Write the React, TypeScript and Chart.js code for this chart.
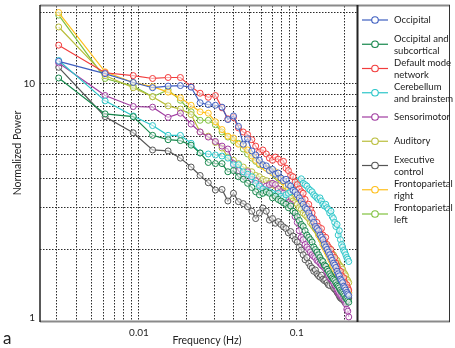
import { useEffect, useRef } from "react";
import { Chart, registerables } from "chart.js";

Chart.register(...registerables);

const frequencies = [
  0.0031, 0.0061, 0.0092, 0.0122, 0.0153, 0.0183, 0.0214, 0.0244, 0.0275, 0.0305,
  0.0336, 0.0366, 0.0397, 0.0427, 0.0458, 0.0488, 0.0519, 0.0549, 0.058, 0.061,
  0.0641, 0.0671, 0.0702, 0.0732, 0.0763, 0.0793, 0.0824, 0.0854, 0.0885, 0.0915,
  0.0946, 0.0976, 0.1007, 0.1037, 0.1068, 0.1098, 0.1129, 0.1159, 0.119, 0.122,
  0.1251, 0.1281, 0.1312, 0.1342, 0.1373, 0.1403, 0.1434, 0.1464, 0.1495, 0.1525,
  0.1556, 0.1586, 0.1617, 0.1647, 0.1678, 0.1708, 0.1739, 0.1769, 0.18, 0.183,
  0.1861, 0.1891, 0.1922, 0.1952, 0.1983, 0.2013, 0.2044, 0.2074, 0.2105, 0.2135,
];

const occipital = [
  12.4, 11.0, 10.1, 9.6, 9.75, 9.8, 9.65, 8.3, 8.15, 8.1,
  7.95, 7.05, 7.3, 6.6, 5.55, 5.85, 5.2, 5.0, 4.75, 4.55,
  4.5, 4.3, 4.35, 4.15, 4.2, 4.0, 3.9, 3.95, 3.75, 3.7,
  3.55, 3.5, 3.4, 3.3, 3.2, 3.1, 3.0, 2.95, 2.85, 2.75,
  2.7, 2.6, 2.5, 2.45, 2.4, 2.3, 2.25, 2.2, 2.1, 2.05,
  2.0, 1.95, 1.9, 1.85, 1.8, 1.75, 1.72, 1.68, 1.62, 1.58,
  1.55, 1.5, 1.48, 1.45, 1.4, 1.38, 1.35, 1.32, 1.3, 1.28,
];

const occipitalSubcortical = [
  10.55, 7.45, 7.25, 6.05, 5.8, 5.75, 5.5, 5.1, 4.65, 4.6,
  4.6, 4.25, 4.3, 4.05, 3.95, 3.8, 3.65, 3.5, 3.4, 3.45,
  3.5, 3.45, 3.3, 3.35, 3.25, 3.2, 3.15, 3.1, 3.0, 3.05,
  2.9, 2.85, 2.75, 2.65, 2.55, 2.5, 2.4, 2.3, 2.25, 2.2,
  2.15, 2.05, 2.0, 1.95, 1.9, 1.85, 1.8, 1.78, 1.72, 1.7,
  1.65, 1.62, 1.58, 1.55, 1.52, 1.5, 1.48, 1.45, 1.42, 1.4,
  1.38, 1.35, 1.33, 1.32, 1.3, 1.28, 1.25, 1.24, 1.22, 1.2,
];

const defaultMode = [
  14.5, 11.1, 10.8, 10.5, 10.6, 10.6, 9.7, 9.1, 8.75, 8.9,
  7.9, 7.1, 7.2, 6.5, 6.25, 6.1, 5.8, 5.45, 5.15, 5.25,
  5.05, 4.85, 4.75, 4.9, 4.8, 4.65, 4.7, 4.4, 4.3, 4.1,
  4.05, 3.85, 3.75, 3.6, 3.5, 3.45, 3.25, 3.05, 3.1, 2.95,
  2.85, 2.7, 2.55, 2.6, 2.5, 2.4, 2.45, 2.3, 2.2, 2.25,
  2.1, 2.05, 1.95, 2.0, 1.9, 1.8, 1.85, 1.75, 1.7, 1.65,
  1.6, 1.62, 1.55, 1.5, 1.52, 1.45, 1.4, 1.42, 1.38, 1.35,
];

const cerebellum = [
  12.5, 8.45, 7.3, 6.65, 6.05, 6.05, 5.6, 5.1, 5.05, 5.0,
  4.95, 4.85, 4.55, 4.55, 4.25, 4.15, 4.05, 3.8, 3.7, 3.6,
  3.55, 3.5, 3.45, 3.4, 3.45, 3.35, 3.3, 3.4, 3.45, 3.5,
  3.6, 3.75, 3.85, 3.9, 3.97, 3.8, 3.75, 3.7, 3.6, 3.55,
  3.5, 3.4, 3.35, 3.3, 3.25, 3.3, 3.2, 3.1, 3.05, 3.1,
  3.0, 2.95, 2.85, 2.9, 2.75, 2.7, 2.6, 2.5, 2.55, 2.3,
  2.4, 2.2, 2.1, 2.05, 1.98, 1.95, 1.9, 1.85, 1.82, 1.78,
];

const sensorimotor = [
  12.2, 8.9, 8.0, 7.95, 7.2, 7.5, 6.75, 6.25, 5.95, 5.7,
  5.45, 5.3, 4.6, 4.3, 4.1, 4.25, 3.95, 3.9, 3.75, 3.6,
  3.7, 3.75, 3.8, 3.75, 3.6, 3.5, 3.45, 3.3, 3.15, 3.1,
  2.9, 2.75, 2.6, 2.4, 2.25, 2.2, 2.1, 2.05, 2.0, 1.95,
  1.9, 1.87, 1.85, 1.8, 1.78, 1.75, 1.72, 1.7, 1.68, 1.65,
  1.6, 1.56, 1.52, 1.5, 1.48, 1.45, 1.42, 1.4, 1.35, 1.32,
  1.3, 1.28, 1.27, 1.25, 1.27, 1.22, 1.18, 1.12, 1.1, 1.04,
];

const auditory = [
  17.3, 10.8, 9.6, 8.8, 8.05, 7.8, 7.4, 6.25, 6.0, 5.65,
  5.35, 4.9, 4.75, 4.6, 4.45, 4.3, 4.25, 4.1, 4.05, 3.95,
  3.9, 3.8, 3.75, 3.7, 3.6, 3.55, 3.5, 3.4, 3.35, 3.3,
  3.2, 3.15, 3.1, 3.0, 2.95, 2.85, 2.8, 2.75, 2.7, 2.6,
  2.55, 2.5, 2.45, 2.4, 2.35, 2.3, 2.28, 2.2, 2.15, 2.1,
  2.05, 2.0, 2.02, 1.95, 1.92, 1.9, 1.85, 1.82, 1.8, 1.75,
  1.72, 1.7, 1.68, 1.65, 1.6, 1.58, 1.55, 1.5, 1.48, 1.45,
];

const executiveControl = [
  11.7, 7.25, 6.2, 5.25, 5.2, 4.85, 4.45, 4.1, 3.82, 3.56,
  3.58, 3.2, 3.45, 3.18, 3.12, 3.03, 2.9, 2.7, 2.85, 2.99,
  2.9, 2.66, 2.7, 2.58, 2.62, 2.55, 2.49, 2.45, 2.35, 2.38,
  2.28, 2.2, 2.15, 2.05, 1.99, 1.9, 1.81, 1.85, 1.75, 1.7,
  1.67, 1.62, 1.64, 1.58, 1.55, 1.53, 1.56, 1.5, 1.48, 1.49,
  1.45, 1.42, 1.41, 1.5, 1.42, 1.38, 1.36, 1.35, 1.32, 1.3,
  1.27, 1.25, 1.24, 1.23, 1.22, 1.2, 1.2, 1.22, 1.23, 1.25,
];

const frontoparietalRight = [
  19.9, 11.2, 10.1, 9.7, 9.2, 8.7, 8.1, 7.6, 7.5, 6.9,
  6.4, 6.0, 5.9, 5.55, 5.5, 5.25, 4.95, 4.75, 4.6, 4.5,
  4.4, 4.3, 4.2, 4.25, 4.05, 3.95, 3.85, 3.7, 3.6, 3.55,
  3.45, 3.35, 3.25, 3.2, 3.1, 3.0, 2.9, 2.85, 2.75, 2.7,
  2.6, 2.5, 2.45, 2.4, 2.3, 2.25, 2.2, 2.1, 2.05, 2.0,
  1.95, 1.9, 1.85, 1.8, 1.72, 1.7, 1.65, 1.6, 1.55, 1.52,
  1.5, 1.45, 1.4, 1.42, 1.35, 1.32, 1.3, 1.28, 1.25, 1.3,
];

const frontoparietalLeft = [
  19.4, 10.5, 9.75, 8.8, 9.4, 8.5, 7.6, 7.0, 7.0, 6.7,
  6.25, 5.95, 5.75, 5.6, 5.3, 5.05, 4.85, 4.7, 4.55, 4.5,
  4.4, 4.35, 4.25, 4.1, 4.0, 3.9, 3.85, 3.75, 3.65, 3.55,
  3.45, 3.4, 3.3, 3.2, 3.1, 3.05, 2.95, 2.85, 2.8, 2.7,
  2.65, 2.55, 2.5, 2.4, 2.35, 2.3, 2.2, 2.15, 2.1, 2.05,
  2.0, 1.95, 1.9, 1.85, 1.8, 1.75, 1.7, 1.68, 1.62, 1.6,
  1.55, 1.52, 1.5, 1.45, 1.48, 1.42, 1.4, 1.38, 1.35, 1.32,
];

const seriesNames = [
  ["Occipital"],
  ["Occipital and", "subcortical"],
  ["Default mode", "network"],
  ["Cerebellum", "and brainstem"],
  ["Sensorimotor"],
  ["Auditory"],
  ["Executive", "control"],
  ["Frontoparietal", "right"],
  ["Frontoparietal", "left"],
];

const seriesValues = [
  occipital,
  occipitalSubcortical,
  defaultMode,
  cerebellum,
  sensorimotor,
  auditory,
  executiveControl,
  frontoparietalRight,
  frontoparietalLeft,
];

const seriesColors = [
  "#3f5fc0",
  "#14864a",
  "#f23c3c",
  "#2cc6c9",
  "#a03ca0",
  "#b9bd3a",
  "#555555",
  "#ffbf1a",
  "#80c13f",
];

const xGridValues = [
  0.003, 0.004, 0.005, 0.006, 0.007, 0.008, 0.009, 0.01,
  0.02, 0.03, 0.04, 0.05, 0.06, 0.07, 0.08, 0.09, 0.1, 0.2,
];
const xLabelValues = [0.01, 0.1];
const xLabelTexts = ["0.01", "0.1"];
const yGridValues = [1, 2, 3, 4, 5, 6, 7, 8, 9, 10, 20];
const yLabelValues = [1, 10];
const yLabelTexts = ["1", "10"];

const xTitle = "Frequency (Hz)";
const yTitle = "Normalized Power";
const panelLetter = "a";

const FONT = "Lato, 'Liberation Sans', sans-serif";

export default function App() {
  const canvasRef = useRef<HTMLCanvasElement | null>(null);

  useEffect(() => {
    const canvas = canvasRef.current;
    if (!canvas) return;

    const framePlugin = {
      id: "framePlugin",
      afterDraw(chart: any) {
        const ctx = chart.ctx as CanvasRenderingContext2D;
        const a = chart.chartArea;
        const xs = chart.scales.x;
        const ys = chart.scales.y;
        const legendRight = 450;
        ctx.save();
        // top and bottom frame lines
        ctx.strokeStyle = "#8a8a8a";
        ctx.lineWidth = 2;
        ctx.beginPath();
        ctx.moveTo(a.left, a.top - 0.5);
        ctx.lineTo(legendRight, a.top - 0.5);
        ctx.moveTo(a.left, a.bottom + 0.5);
        ctx.lineTo(legendRight, a.bottom + 0.5);
        ctx.stroke();
        // left axis
        ctx.strokeStyle = "#222";
        ctx.lineWidth = 1.5;
        ctx.beginPath();
        ctx.moveTo(a.left, a.top - 1);
        ctx.lineTo(a.left, a.bottom + 1);
        ctx.stroke();
        // right plot border / legend divider
        ctx.lineWidth = 2;
        ctx.beginPath();
        ctx.moveTo(a.right + 0.5, a.top - 1);
        ctx.lineTo(a.right + 0.5, a.bottom + 1);
        ctx.stroke();
        // legend right border
        ctx.lineWidth = 1;
        ctx.strokeStyle = "#333";
        ctx.beginPath();
        ctx.moveTo(legendRight - 0.5, a.top - 1);
        ctx.lineTo(legendRight - 0.5, a.bottom + 1);
        ctx.stroke();

        // tick labels
        ctx.fillStyle = "#222";
        ctx.font = `10px ${FONT}`;
        ctx.textBaseline = "middle";
        ctx.textAlign = "right";
        yLabelValues.forEach((v, i) => {
          const py = ys.getPixelForValue(v);
          ctx.fillText(yLabelTexts[i], a.left - 5, i === 0 ? py - 3 : py);
        });
        ctx.textAlign = "center";
        xLabelValues.forEach((v, i) => {
          const px = xs.getPixelForValue(v);
          ctx.fillText(xLabelTexts[i], px, a.bottom + 12);
        });

        // legend entries
        ctx.font = `9.5px ${FONT}`;
        ctx.textBaseline = "middle";
        ctx.textAlign = "left";
        seriesNames.forEach((lines, i) => {
          const cy = 20 + i * 24.25;
          const color = seriesColors[i];
          ctx.strokeStyle = color;
          ctx.lineWidth = 1.2;
          ctx.beginPath();
          ctx.moveTo(362, cy);
          ctx.lineTo(388, cy);
          ctx.stroke();
          ctx.beginPath();
          ctx.arc(375, cy, 3.3, 0, Math.PI * 2);
          ctx.fillStyle = "#fff";
          ctx.fill();
          ctx.lineWidth = 1.1;
          ctx.stroke();
          ctx.fillStyle = "#222";
          if (lines.length === 1) {
            ctx.fillText(lines[0], 394, cy);
          } else {
            ctx.fillText(lines[0], 394, cy - 5.8);
            ctx.fillText(lines[1], 394, cy + 6.2);
          }
        });

        // axis titles
        ctx.fillStyle = "#222";
        ctx.font = `10.5px ${FONT}`;
        ctx.textAlign = "center";
        ctx.fillText(xTitle, 207, 341);
        ctx.save();
        ctx.translate(18, 153);
        ctx.rotate(-Math.PI / 2);
        ctx.fillText(yTitle, 0, 0);
        ctx.restore();

        // panel letter
        ctx.font = `17px ${FONT}`;
        ctx.textAlign = "left";
        ctx.fillText(panelLetter, 3, 339);
        ctx.restore();
      },
    };

    const chart = new Chart(canvas, {
      type: "line",
      data: {
        labels: frequencies,
        datasets: seriesValues.map((vals, i) => ({
          label: seriesNames[i].join(" "),
          data: vals.map((v, j) => ({ x: frequencies[j], y: v })),
          borderColor: seriesColors[i],
          backgroundColor: seriesColors[i],
          pointBackgroundColor: "rgba(255,255,255,0.55)",
          pointBorderColor: seriesColors[i],
          pointRadius: 3,
          pointBorderWidth: 1,
          borderWidth: 1.2,
          fill: false,
          tension: 0,
        })),
      },
      options: {
        responsive: false,
        animation: false,
        events: [],
        layout: { padding: { left: 0, right: 98, top: 6, bottom: 0 } },
        plugins: {
          legend: { display: false },
          tooltip: { enabled: false },
        },
        scales: {
          x: {
            type: "logarithmic",
            min: 0.00236,
            max: 0.2408,
            afterBuildTicks: (scale: any) => {
              scale.ticks = xGridValues.map((v) => ({ value: v }));
            },
            afterFit: (scale: any) => {
              scale.height = 27;
            },
            ticks: { display: false },
            grid: {
              color: "#2a2a2a",
              lineWidth: 1,
              drawTicks: false,
            },
            border: { display: false, dash: [1.5, 1.5] },
          },
          y: {
            type: "logarithmic",
            min: 1,
            max: 21.2,
            afterBuildTicks: (scale: any) => {
              scale.ticks = yGridValues.map((v) => ({ value: v }));
            },
            afterFit: (scale: any) => {
              scale.width = 40;
            },
            ticks: { display: false },
            grid: {
              color: "#2a2a2a",
              lineWidth: 1,
              drawTicks: false,
            },
            border: { display: false, dash: [1.5, 1.5] },
          },
        },
      },
      plugins: [framePlugin],
    });

    return () => {
      chart.destroy();
    };
  }, []);

  return (
    <div style={{ position: "absolute", left: 0, top: 0, width: 455, height: 348, background: "#fff" }}>
      <canvas ref={canvasRef} width={455} height={348} style={{ display: "block" }} />
    </div>
  );
}
